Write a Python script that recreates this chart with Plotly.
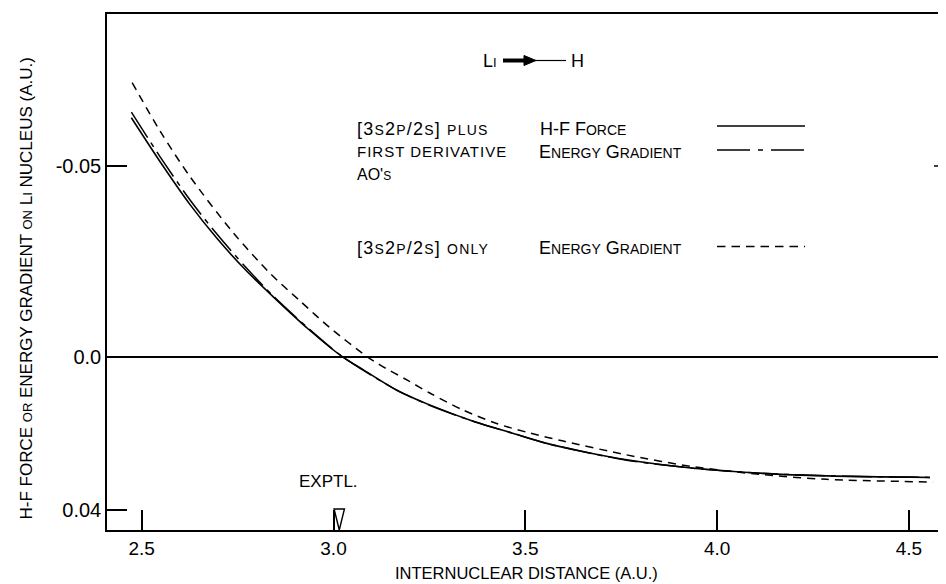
import plotly.graph_objects as go

# ---------------- data ----------------
# internuclear distance (a.u.) and H-F force / energy gradient on Li nucleus (a.u.)
r_deriv = [2.473, 2.548, 2.626, 2.696, 2.769, 2.843, 2.934, 3.021, 3.078, 3.165,
           3.252, 3.364, 3.469, 3.556, 3.643, 3.764, 3.938, 4.112, 4.286, 4.555]
hf_force = [-0.0626, -0.0511, -0.0399, -0.0311, -0.0230, -0.0158, -0.0074, -0.0003,
            0.0033, 0.0086, 0.0125, 0.0167, 0.0199, 0.0225, 0.0245, 0.0268,
            0.0290, 0.0303, 0.0310, 0.0314]
grad_deriv = [-0.0641, -0.0524, -0.0411, -0.0322, -0.0238, -0.0160, -0.0076, -0.0003,
              0.0034, 0.0086, 0.0126, 0.0167, 0.0199, 0.0225, 0.0245, 0.0269,
              0.0290, 0.0303, 0.0310, 0.0314]

r_only = [2.475, 2.548, 2.626, 2.739, 2.835, 2.913, 2.991, 3.087, 3.121, 3.191,
          3.252, 3.338, 3.425, 3.512, 3.599, 3.764, 3.938, 4.112, 4.286, 4.563]
grad_only = [-0.0718, -0.0591, -0.0472, -0.0325, -0.0219, -0.0147, -0.0077, -0.0002,
             0.0020, 0.0059, 0.0094, 0.0138, 0.0173, 0.0198, 0.0219, 0.0255,
             0.0286, 0.0306, 0.0319, 0.0326]

exptl_r = [3.015]

x_ticks = [2.5, 3.0, 3.5, 4.0, 4.5]
x_tick_labels = ["2.5", "3.0", "3.5", "4.0", "4.5"]
y_ticks = [-0.05, 0.0, 0.04]
y_tick_labels = ["-0.05", "0.0", "0.04"]

# ---------------- layout helpers ----------------
FONT = "Liberation Sans, Arial, Helvetica, sans-serif"
OFF = 8                       # page body margin
ML, MT, PW, PH = 107, 14, 839, 516   # plot area in window pixels
FIG_W, FIG_H = 946 - OFF, 584 - OFF


def fx(px):
    return (px - ML) / PW


def fy(py):
    return (MT + PH - py) / PH


def sm(t, size=14):
    return "<span style='font-size:%dpx'>%s</span>" % (size, t)


def sp(t, ls=1):
    return "<span style='letter-spacing:%spx'>%s</span>" % (ls, t)


fig = go.Figure()

fig.add_trace(go.Scatter(x=r_deriv, y=hf_force, mode="lines", name="H-F Force",
                         line=dict(color="black", width=1.6, shape="spline", smoothing=0.8)))
fig.add_trace(go.Scatter(x=r_deriv, y=grad_deriv, mode="lines", name="Energy Gradient (deriv. AO's)",
                         line=dict(color="black", width=1.5, shape="spline", smoothing=0.8,
                                   dash="30px,6px,5px,6px")))
fig.add_trace(go.Scatter(x=r_only, y=grad_only, mode="lines", name="Energy Gradient (only)",
                         line=dict(color="black", width=1.5, shape="spline", smoothing=0.8,
                                   dash="8px,6px")))

shapes = []
# EXPTL. marker (open downward triangle at the experimental distance)
er = exptl_r[0]
half = 0.0135
shapes.append(dict(type="path", xref="x", yref="paper",
                   path="M %f,%f L %f,%f L %f,%f Z" % (er - half, fy(509), er + half, fy(509), er, 0.0),
                   line=dict(color="black", width=1.4)))
# right-hand tick at -0.05
shapes.append(dict(type="line", xref="paper", yref="y", x0=fx(934), x1=1.0, y0=-0.05, y1=-0.05,
                   line=dict(color="black", width=1.5)))
# legend samples
shapes.append(dict(type="line", xref="paper", yref="paper", x0=fx(717), x1=fx(805),
                   y0=fy(126), y1=fy(126), line=dict(color="black", width=1.6)))
shapes.append(dict(type="line", xref="paper", yref="paper", x0=fx(717), x1=fx(805),
                   y0=fy(150), y1=fy(150), line=dict(color="black", width=1.5, dash="33px,8px,5px,8px")))
shapes.append(dict(type="line", xref="paper", yref="paper", x0=fx(717), x1=fx(805),
                   y0=fy(246.5), y1=fy(246.5), line=dict(color="black", width=1.5, dash="8.5px,6px")))
# Li -> H arrow
shapes.append(dict(type="line", xref="paper", yref="paper", x0=fx(503), x1=fx(527),
                   y0=fy(60.5), y1=fy(60.5), line=dict(color="black", width=4)))
shapes.append(dict(type="path", xref="paper", yref="paper",
                   path="M %f,%f L %f,%f L %f,%f Z" % (fx(524), fy(55.5), fx(536), fy(60.5), fx(524), fy(65.5)),
                   fillcolor="black", line=dict(color="black", width=1)))
shapes.append(dict(type="line", xref="paper", yref="paper", x0=fx(535), x1=fx(566),
                   y0=fy(60.5), y1=fy(60.5), line=dict(color="black", width=1.2)))

BIG = 18
annotations = []


def ann(text, px, py, xanchor="left", size=BIG, angle=0):
    annotations.append(dict(text=text, x=fx(px), y=fy(py), xref="paper", yref="paper",
                            xanchor=xanchor, yanchor="middle", showarrow=False,
                            textangle=angle, font=dict(family=FONT, size=size, color="black")))


ann("L" + sm("I", 13), 499, 60.5, "right")
ann("H", 568.5, 60.5, "left")
bracket = "[3" + sm("S") + "2" + sm("P") + "/2" + sm("S") + "]"
ann(sp(bracket + " " + sm("PLUS"), 1.2), 355, 129)
ann("H-F F" + sm("ORCE"), 538, 129)
ann(sp(sm("FIRST DERIVATIVE", 15), 1), 355, 151.5)
ann("E" + sm("NERGY") + " G" + sm("RADIENT"), 537, 151.5)
ann("AO'" + sm("S", 12), 355, 174, size=16)
ann(sp(bracket + " " + sm("ONLY"), 1.2), 355, 247.5)
ann("E" + sm("NERGY") + " G" + sm("RADIENT"), 537, 247.5)
ann("EXPTL.", 328.5, 481, "center", size=17)
ann("INTERNUCLEAR DISTANCE (A.U.)", 526, 573, "center", size=16.5)
ann("H-F FORCE " + sm("OR", 13) + " ENERGY GRADIENT " + sm("ON", 13) + " L" + sm("I", 13)
    + " NUCLEUS (A.U.)", 25.5, 289, "center", size=17, angle=-90)

fig.update_layout(
    width=FIG_W, height=FIG_H,
    margin=dict(l=ML - OFF, r=FIG_W - (ML - OFF) - PW, t=MT - OFF, b=FIG_H - (MT - OFF) - PH),
    paper_bgcolor="white", plot_bgcolor="white",
    showlegend=False,
    font=dict(family=FONT, color="black"),
    shapes=shapes, annotations=annotations,
    xaxis=dict(range=[2.4095, 4.5967], tickvals=x_ticks, ticktext=x_tick_labels,
               ticks="inside", ticklen=20, tickwidth=1.5, tickcolor="black",
               showline=True, linewidth=1.5, linecolor="black", mirror=True,
               showgrid=False, zeroline=False, tickfont=dict(size=19, family=FONT)),
    yaxis=dict(range=[0.04514, -0.08973], tickvals=y_ticks, ticktext=y_tick_labels,
               ticks="inside", ticklen=20, tickwidth=1.5, tickcolor="black",
               showline=True, linewidth=1.5, linecolor="black", mirror=False,
               showgrid=False, zeroline=True, zerolinecolor="black", zerolinewidth=1.5,
               tickfont=dict(size=20, family=FONT)),
)

fig.write_html("out.html")
